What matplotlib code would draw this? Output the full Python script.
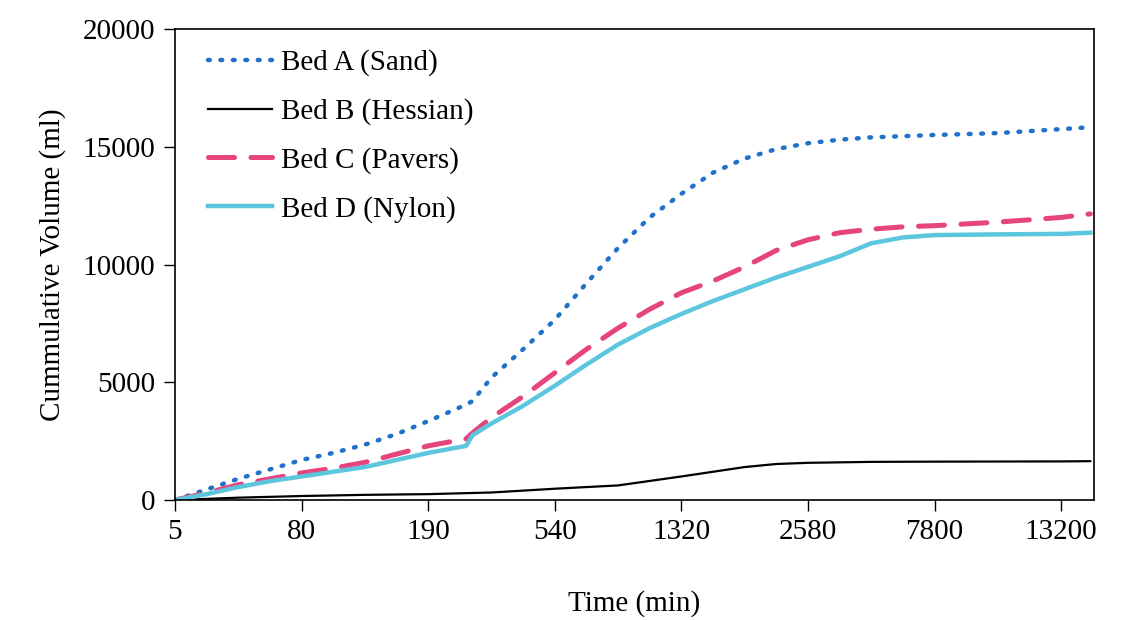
import matplotlib.pyplot as plt

plt.rcParams['font.family'] = ['Liberation Serif', 'DejaVu Serif']

# posiciones en unidades de marca del eje (categorías equiespaciadas)
pos = [0, 0.25, 0.5, 0.75, 1, 1.25, 1.5, 1.75, 2, 2.3, 2.35, 2.5, 2.75, 3, 3.25,
       3.5, 3.75, 4, 4.25, 4.5, 4.75, 5, 5.25, 5.5, 5.75, 6, 6.5, 7, 7.23]

bed_a = [0, 450, 900, 1300, 1700, 2000, 2350, 2800, 3350, 4050, 4200, 5200, 6400, 7650, 9200,
         10700, 12000, 13000, 13900, 14500, 14900, 15150, 15300, 15400, 15450, 15500, 15580, 15750, 15830]
bed_c = [0, 300, 650, 900, 1150, 1350, 1600, 1950, 2300, 2600, 2850, 3500, 4400, 5400, 6400,
         7300, 8100, 8800, 9300, 9900, 10600, 11050, 11350, 11500, 11600, 11650, 11800, 12000, 12150]
bed_d = [0, 250, 550, 800, 1000, 1200, 1400, 1700, 2000, 2300, 2750, 3250, 4000, 4850, 5750,
         6600, 7300, 7900, 8450, 8950, 9450, 9900, 10350, 10900, 11150, 11250, 11280, 11300, 11350]

pos_b = [0.05, 0.25, 0.5, 1, 1.5, 2, 2.5, 3, 3.5, 4, 4.25, 4.5, 4.75, 5, 5.5, 6, 7, 7.23]
bed_b = [0, 50, 100, 170, 220, 250, 320, 480, 620, 1000, 1200, 1400, 1530, 1580, 1620, 1630, 1640, 1650]

tick_labels = ['5', '80', '190', '540', '1320', '2580', '7800', '13200']

fig = plt.figure(figsize=(11.39, 6.2), dpi=100)
ax = fig.add_axes([0.1536, 0.1935, 0.8069, 0.7597])

ax.plot(pos, bed_a, color='#1f72c8', lw=3.2, linestyle=(0, (0.4, 2.4)),
        dash_capstyle='round', label='Bed A (Sand)')
ax.plot(pos_b, bed_b, color='black', lw=1.6, label='Bed B (Hessian)')
ax.plot(pos, bed_c, color='#e6447c', lw=3.6, linestyle=(0, (5.2, 3.3)),
        dash_capstyle='round', label='Bed C (Pavers)')
ax.plot(pos, bed_d, color='#5cc6df', lw=3.2, label='Bed D (Nylon)')

ax.set_xlim(0, 7.26)
ax.set_ylim(0, 20000)
ax.set_xticks(range(8))
ax.set_xticklabels(tick_labels)
ax.set_yticks([0, 5000, 10000, 15000, 20000])
ax.tick_params(labelsize=21, length=8, width=1, pad=6)
for s in ax.spines.values():
    s.set_linewidth(1.2)

ax.set_xlabel('Time (min)', fontsize=21, labelpad=32)
ax.set_ylabel('Cummulative Volume (ml)', fontsize=21, labelpad=12)

ax.legend(loc='upper left', bbox_to_anchor=(0.014, 1.0), frameon=False, fontsize=21,
          handlelength=2.2, labelspacing=0.75, borderaxespad=0.3, handletextpad=0.3)

fig.savefig('out.png', dpi=100)
